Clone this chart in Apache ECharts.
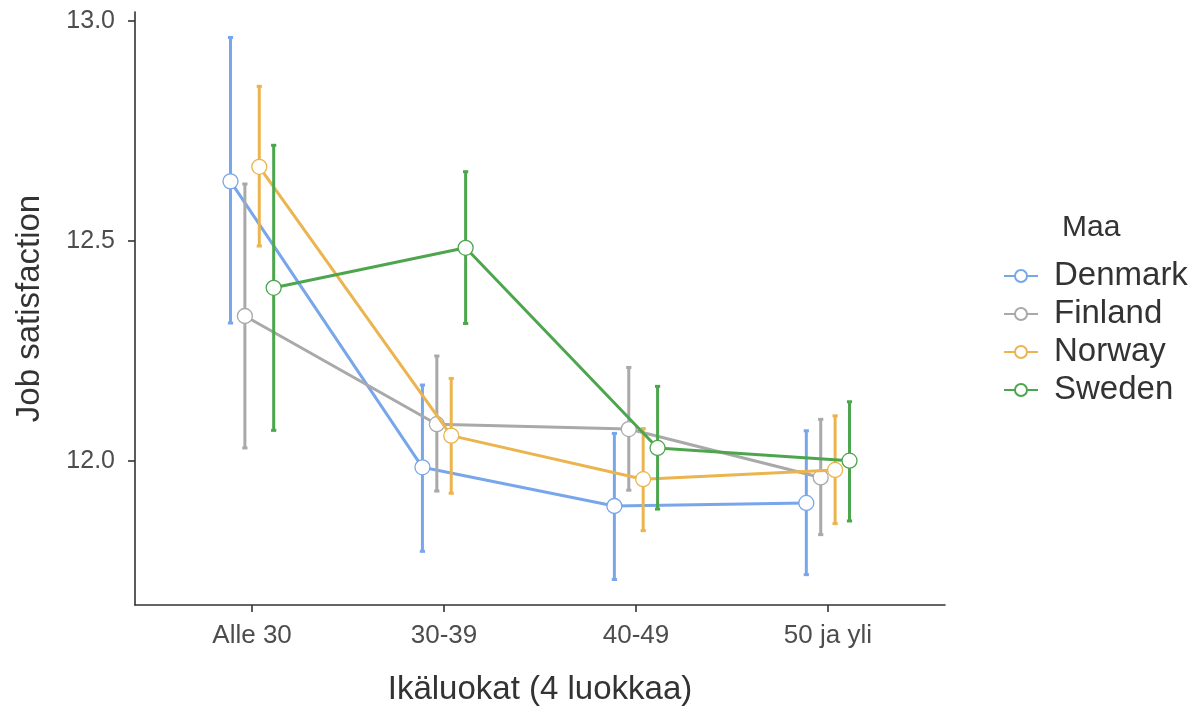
<!DOCTYPE html>
<html>
<head>
<meta charset="utf-8">
<script src="https://cdn.jsdelivr.net/npm/echarts@6/dist/echarts.min.js"></script>
<style>
html,body{margin:0;padding:0;background:#fff;}
#chart{width:1204px;height:706px;}
</style>
</head>
<body>
<div id="chart"></div>
<script>
// ---- data ----
var categories = ['Alle 30', '30-39', '40-49', '50 ja yli'];
var countries = ['Denmark', 'Finland', 'Norway', 'Sweden'];
var yTicks = [12.0, 12.5, 13.0];

var denmarkMean  = [12.636, 11.986, 11.898, 11.905];
var denmarkLow   = [12.314, 11.795, 11.731, 11.742];
var denmarkHigh  = [12.963, 12.173, 12.063, 12.069];

var finlandMean  = [12.330, 12.084, 12.073, 11.963];
var finlandLow   = [12.030, 11.932, 11.934, 11.833];
var finlandHigh  = [12.630, 12.239, 12.213, 12.095];

var norwayMean   = [12.669, 12.058, 11.959, 11.980];
var norwayLow    = [12.489, 11.927, 11.842, 11.858];
var norwayHigh   = [12.852, 12.188, 12.074, 12.103];

var swedenMean   = [12.394, 12.485, 12.030, 12.001];
var swedenLow    = [12.070, 12.313, 11.891, 11.864];
var swedenHigh   = [12.718, 12.658, 12.170, 12.135];

// ---- styling ----
var colors = ['#78A6EA', '#A9A9A9', '#EBB44E', '#4DA64D'];
var dodge = [-0.1125, -0.0375, 0.0375, 0.1125];
var means = [denmarkMean, finlandMean, norwayMean, swedenMean];
var lows = [denmarkLow, finlandLow, norwayLow, swedenLow];
var highs = [denmarkHigh, finlandHigh, norwayHigh, swedenHigh];
var FONT = 'Liberation Sans, Arial, sans-serif';

var series = [];
countries.forEach(function (name, s) {
  var ebData = categories.map(function (c, i) { return [i + dodge[s], lows[s][i], highs[s][i]]; });
  series.push({
    type: 'custom',
    name: name + '_err',
    z: 2 + s * 3,
    silent: true,
    data: ebData,
    encode: { x: 0, y: [1, 2] },
    renderItem: function (params, api) {
      var x = api.value(0);
      var p1 = api.coord([x, api.value(1)]);
      var p2 = api.coord([x, api.value(2)]);
      var st = { stroke: colors[s], lineWidth: 3 };
      var cw = 2.6;
      return {
        type: 'group',
        children: [
          { type: 'line', shape: { x1: p1[0], y1: p1[1], x2: p2[0], y2: p2[1] }, style: st },
          { type: 'line', shape: { x1: p1[0] - cw, y1: p1[1], x2: p1[0] + cw, y2: p1[1] }, style: st },
          { type: 'line', shape: { x1: p2[0] - cw, y1: p2[1], x2: p2[0] + cw, y2: p2[1] }, style: st }
        ]
      };
    }
  });
  series.push({
    type: 'line',
    name: name,
    z: 3 + s * 3,
    data: categories.map(function (c, i) { return [i + dodge[s], means[s][i]]; }),
    symbol: 'circle',
    symbolSize: 15,
    showAllSymbol: true,
    lineStyle: { color: colors[s], width: 3 },
    itemStyle: { color: '#ffffff', borderColor: colors[s], borderWidth: 1.3 },
    color: colors[s],
    emphasis: { disabled: true },
    animation: false
  });
});

var chart = echarts.init(document.getElementById('chart'), null, { renderer: 'canvas' });
chart.setOption({
  animation: false,
  backgroundColor: '#ffffff',
  grid: { left: 135, right: 259, top: 12, bottom: 101, containLabel: false, outerBoundsMode: 'none' },
  xAxis: {
    type: 'value',
    min: -0.61, max: 3.61,
    name: 'Ikäluokat (4 luokkaa)',
    nameLocation: 'middle',
    nameGap: 68,
    nameTextStyle: { fontFamily: FONT, fontSize: 33, color: '#333333' },
    axisLine: { show: true, onZero: false, lineStyle: { color: '#333333', width: 1.6 } },
    axisTick: { show: true, length: 7, lineStyle: { color: '#333333', width: 1.6 }, customValues: [0, 1, 2, 3] },
    axisLabel: {
      customValues: [0, 1, 2, 3],
      margin: 18,
      fontFamily: FONT, fontSize: 26, color: '#4d4d4d',
      formatter: function (v) { return categories[Math.round(v)]; }
    },
    splitLine: { show: false }
  },
  yAxis: {
    type: 'value',
    min: 11.673, max: 13.021,
    name: 'Job satisfaction',
    nameLocation: 'middle',
    nameGap: 89,
    nameRotate: 90,
    nameTextStyle: { fontFamily: FONT, fontSize: 33, color: '#333333' },
    axisLine: { show: true, onZero: false, lineStyle: { color: '#333333', width: 1.6 } },
    axisTick: { show: true, length: 7, lineStyle: { color: '#333333', width: 1.6 }, customValues: yTicks },
    axisLabel: {
      customValues: yTicks,
      margin: 20,
      fontFamily: FONT, fontSize: 25, color: '#4d4d4d',
      formatter: function (v) { return v.toFixed(1); }
    },
    splitLine: { show: false }
  },
  legend: {
    data: countries,
    orient: 'vertical',
    left: 998,
    top: 253,
    itemWidth: 34,
    itemHeight: 15,
    itemGap: 2,
    selectedMode: false,
    textStyle: { fontFamily: FONT, fontSize: 33, color: '#333333', padding: [0, 0, 0, 11], lineHeight: 36 }
  },
  graphic: [{
    type: 'text',
    left: 1062,
    top: 213,
    style: { text: 'Maa', fontFamily: FONT, fontSize: 30, fill: '#333333' }
  }],
  series: series
});
</script>
</body>
</html>
